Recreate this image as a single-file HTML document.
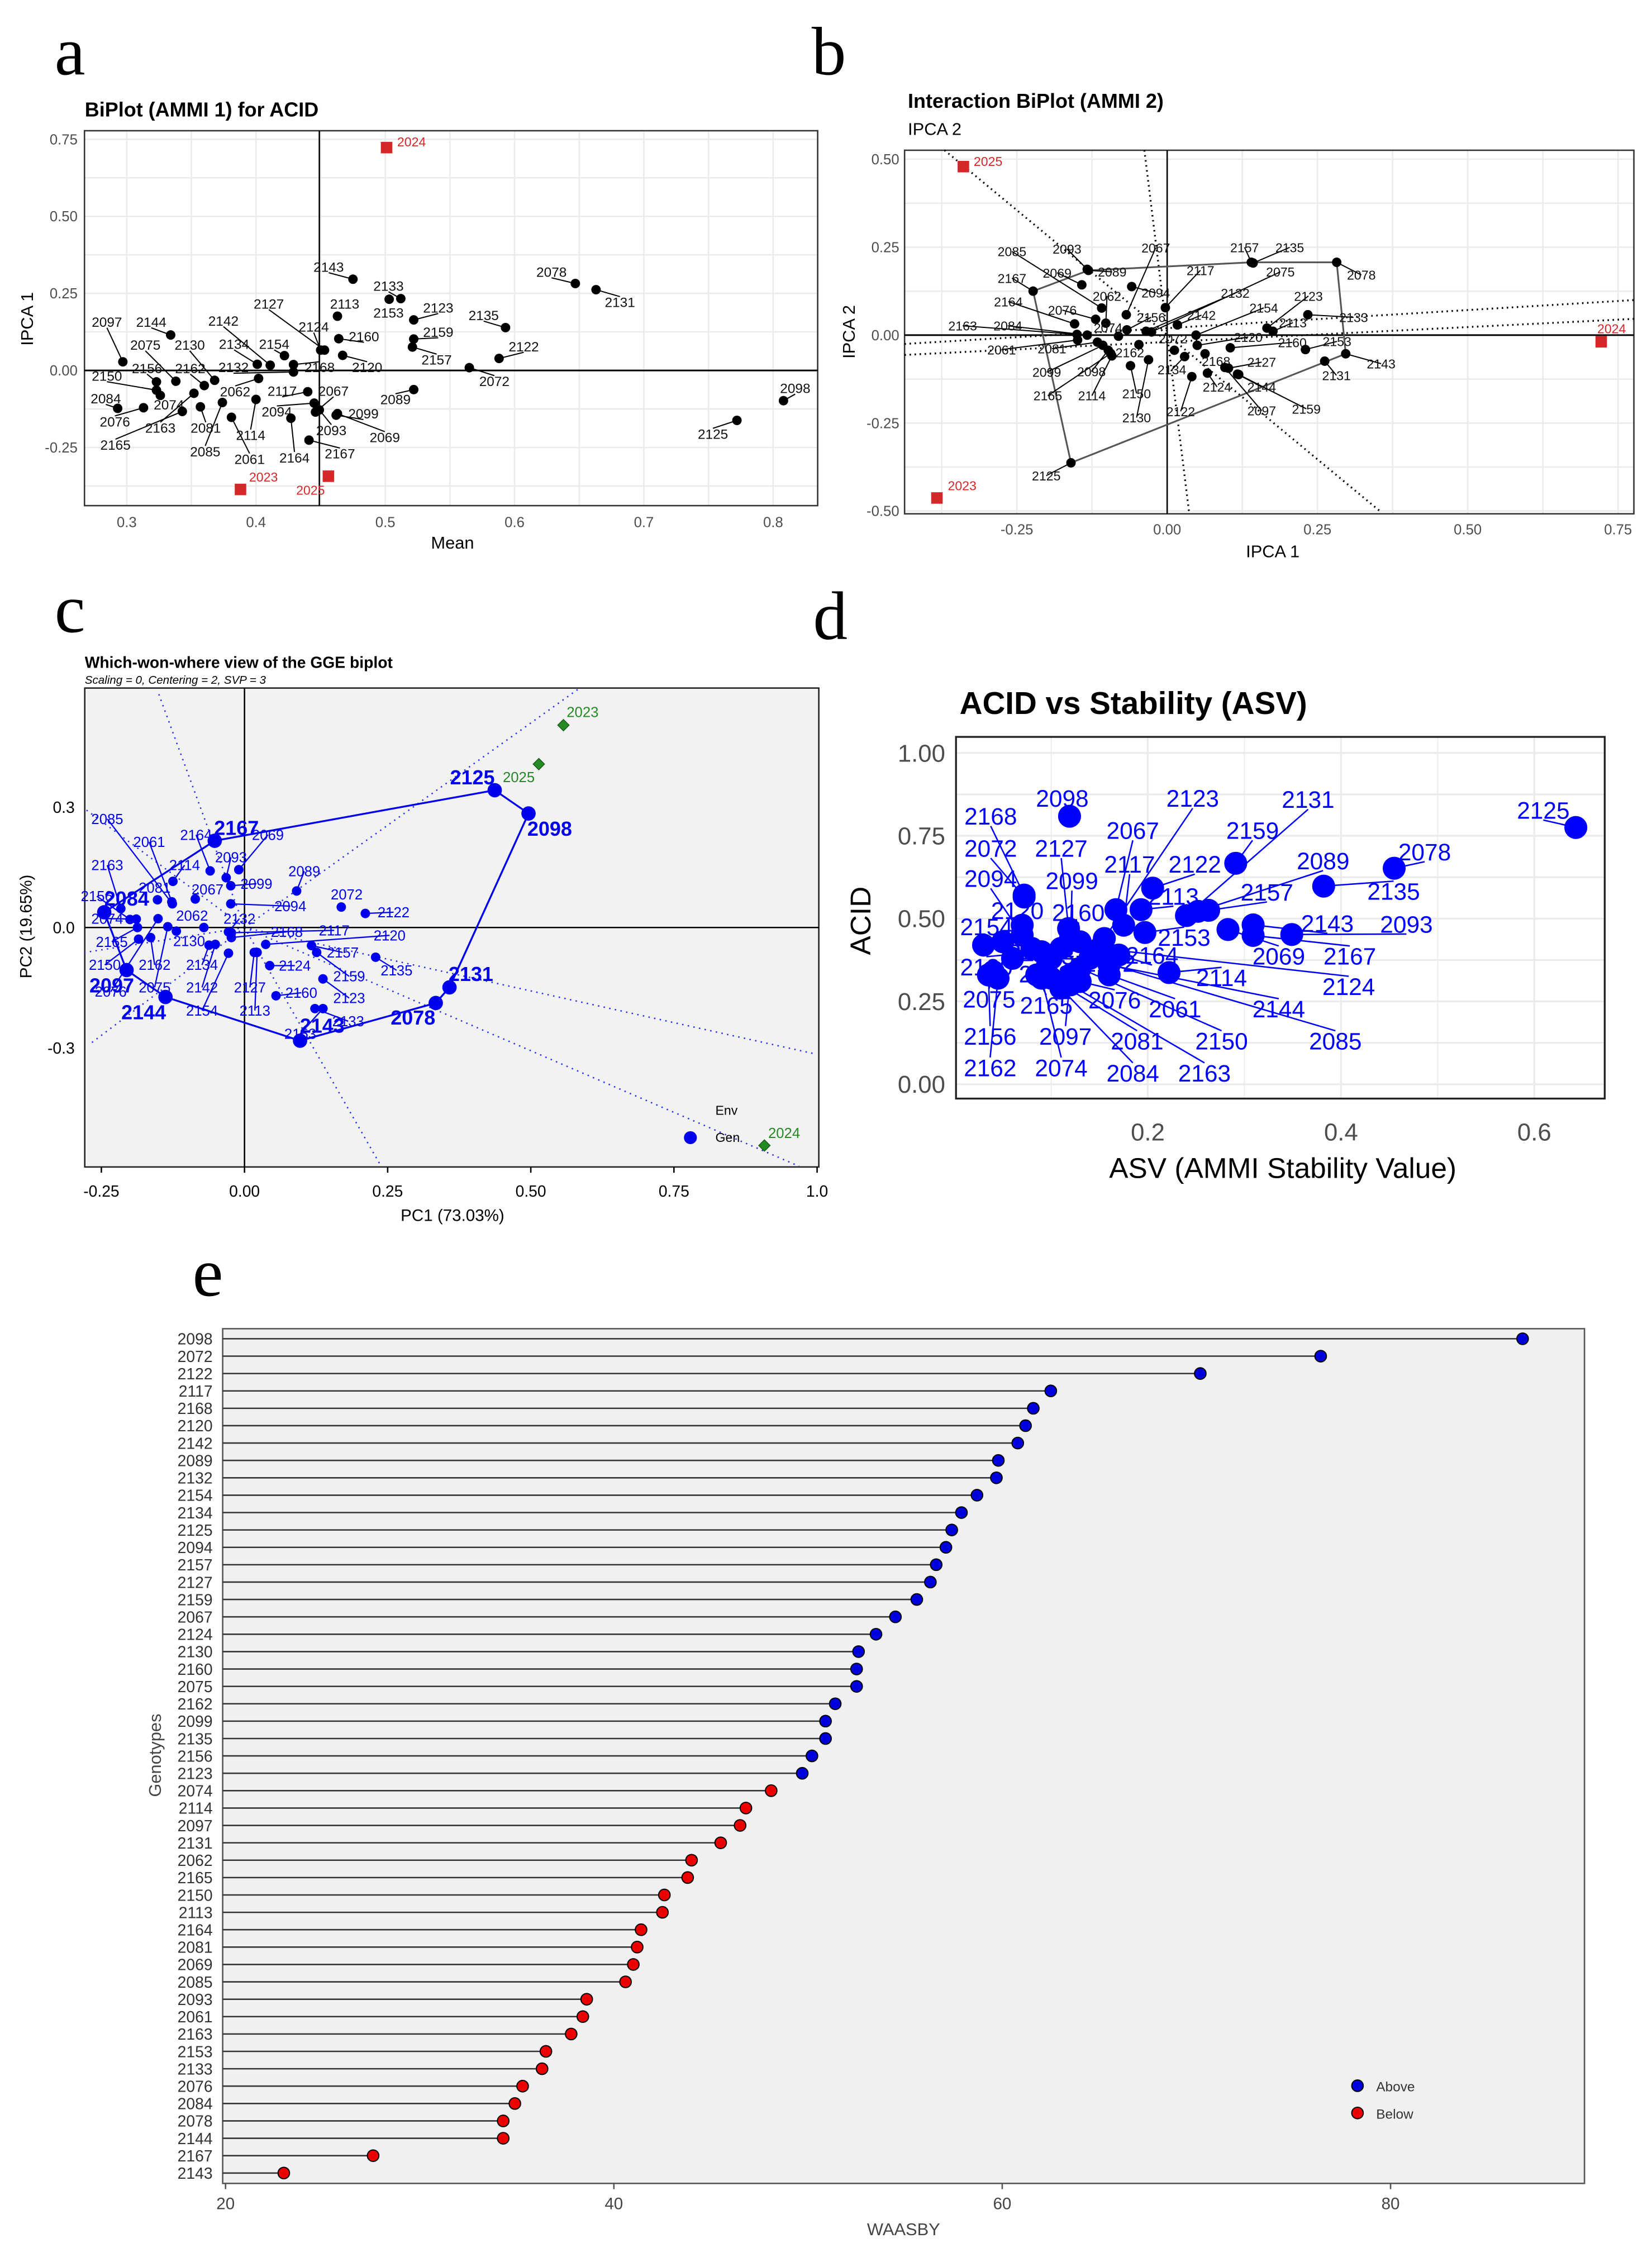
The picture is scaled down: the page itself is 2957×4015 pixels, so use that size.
<!DOCTYPE html>
<html><head><meta charset="utf-8"><style>
html,body{margin:0;padding:0;background:#fff;}
svg{display:block;font-family:"Liberation Sans",sans-serif;}
</style></head><body>
<svg id="fig" xmlns="http://www.w3.org/2000/svg" width="2957" height="4015" viewBox="0 0 1150 1561.5"></svg>
<script>
const NS="http://www.w3.org/2000/svg";
const svg=document.getElementById('fig');
function mk(tag,attrs,parent,txt){const e=document.createElementNS(NS,tag);for(const k in attrs)e.setAttribute(k,attrs[k]);if(txt!==undefined)e.textContent=txt;(parent||svg).appendChild(e);return e;}

// ---------- Panel a data ----------
const aNames=["2143","2133","2153","2078","2131","2113","2123","2135","2160","2159","2157","2122","2124","2127","2120","2072","2097","2144","2134","2142","2154","2168","2132","2075","2130","2162","2156","2150","2062","2074","2084","2076","2165","2163","2081","2085","2061","2114","2117","2094","2067","2099","2093","2069","2164","2167","2089","2098","2125"];
const aMean=[.475,.512,.503,.647,.663,.463,.522,.593,.464,.522,.521,.588,.450,.453,.467,.565,.297,.334,.401,.411,.422,.429,.429,.338,.368,.360,.323,.323,.402,.326,.293,.313,.343,.352,.357,.374,.381,.400,.440,.445,.446,.462,.449,.463,.427,.441,.522,.808,.772];
const aIpca=[.296,.233,.231,.282,.262,.176,.164,.139,.103,.102,.076,.039,.066,.066,.049,.009,.028,.115,.020,.017,.048,.019,-.005,-.035,-.032,-.049,-.037,-.064,-.026,-.081,-.123,-.121,-.133,-.074,-.118,-.104,-.152,-.094,-.069,-.106,-.135,-.145,-.128,-.140,-.155,-.226,-.062,-.098,-.162];
const aEnvNames=["2024","2023","2025"];
const aEnvMean=[.501,.388,.456];
const aEnvIpca=[.723,-.386,-.343];
const aXTicks=[0.3,0.4,0.5,0.6,0.7,0.8];
const aYTicks=[-0.25,0,0.25,0.5,0.75];
const aYTickLabels=["-0.25","0.00","0.25","0.50","0.75"];
const aVline=0.449;

// ---------- Panel b data ----------
const bNames=["2085","2093","2067","2157","2135","2167","2069","2089","2117","2075","2078","2062","2094","2132","2123","2164","2076","2154","2156","2142","2133","2113","2163","2084","2074","2120","2072","2160","2153","2061","2081","2162","2168","2127","2143","2099","2098","2134","2131","2124","2144","2165","2114","2150","2122","2097","2159","2130","2125"];
const bIpca1=[-.109,-.133,-.068,.140,.143,-.223,-.142,-.131,-.003,-.026,.282,-.102,-.059,-.035,.166,-.154,-.119,.048,-.067,.017,.234,.176,-.150,-.133,-.081,.050,.012,.105,.230,-.149,-.116,-.047,.063,.102,.297,-.107,-.098,.029,.262,.067,.117,-.094,-.092,-.061,.041,.096,.119,-.031,-.160];
const bIpca2=[.077,.187,.058,.207,.205,.125,.143,.184,.078,.009,.207,.034,.138,.011,.020,.032,.045,.000,.015,.029,.058,.011,.002,.000,-.003,-.029,-.043,-.036,-.041,-.014,-.020,-.027,-.053,-.094,-.053,-.029,-.043,-.061,-.074,-.108,-.111,-.052,-.059,-.087,-.118,-.092,-.112,-.070,-.363];
const bHull=["2167","2089","2157","2078","2143","2125"];
const bEnvNames=["2025","2023","2024"];
const bEnv1=[-.339,-.383,.722];
const bEnv2=[.479,-.463,-.019];
const bXTicks=[-0.25,0,0.25,0.5,0.75];
const bXTickLabels=["-0.25","0.00","0.25","0.50","0.75"];
const bYTicks=[-0.5,-0.25,0,0.25,0.5];
const bYTickLabels=["-0.50","-0.25","0.00","0.25","0.50"];

// ---------- Panel c data ----------
const cNames=["2125","2098","2131","2078","2143","2144","2097","2084","2167","2164","2069","2093","2099","2114","2061","2067","2081","2085","2094","2089","2072","2122","2163","2074","2076","2062","2132","2165","2130","2150","2162","2075","2134","2142","2154","2168","2117","2120","2157","2159","2135","2127","2113","2124","2123","2160","2133","2153","2156"];
const cPC1=[.437,.496,.358,.334,.097,-.138,-.206,-.245,-.052,-.060,-.010,-.032,-.024,-.125,-.127,-.086,-.152,-.126,-.024,.091,.169,.211,-.216,-.189,-.151,-.071,-.028,-.187,-.119,-.185,-.164,-.134,-.062,-.051,-.028,-.023,-.023,.037,.117,.126,.229,.017,.022,.044,.137,.055,.123,.137,-.200];
const cPC2=[.342,.284,-.149,-.188,-.282,-.173,-.106,.038,.216,.141,.144,.124,.104,.115,.064,.071,.069,.059,.059,.091,.051,.035,.047,.021,.022,.000,-.011,.000,-.009,-.029,-.025,.002,-.044,-.042,-.064,-.025,-.013,-.042,-.045,-.062,-.074,-.062,-.062,-.095,-.128,-.170,-.202,-.202,.020];
const cWinners=["2125","2098","2131","2078","2143","2144","2097","2084","2167"];
const cEnvNames=["2023","2025","2024"];
const cEnv1=[.557,.514,.908];
const cEnv2=[.504,.407,-.543];
const cXTicks=[-0.25,0,0.25,0.5,0.75,1.0];
const cXTickLabels=["-0.25","0.00","0.25","0.50","0.75","1.0"];
const cYTicks=[0.3,0,-0.3];
const cYTickLabels=["0.3","0.0","-0.3"];

// ---------- Panel d data ----------
const dNames=["2125","2078","2159","2135","2098","2168","2072","2122","2143","2093","2167","2069","2157","2089","2131","2113","2067","2117","2123","2153","2114","2127","2099","2094","2120","2160","2154","2164","2124","2144","2085","2061","2150","2163","2081","2084","2076","2097","2074","2165","2062","2075","2156","2162","2130","2132","2134","2133","2142"];
const dASV=[.643,.455,.291,.382,.119,.072,.072,.205,.309,.349,.309,.283,.263,.252,.240,.193,.167,.175,.155,.197,.222,.118,.120,.070,.070,.130,.030,.170,.150,.160,.140,.160,.130,.120,.100,.110,.130,.120,.090,.085,.100,.040,.035,.045,.090,.050,.060,.110,.080];
const dACID=[.775,.652,.667,.598,.809,.571,.565,.592,.481,.452,.449,.467,.525,.522,.509,.527,.527,.480,.440,.458,.337,.470,.440,.450,.480,.430,.420,.390,.410,.360,.380,.330,.350,.300,.320,.290,.310,.330,.320,.330,.380,.340,.330,.320,.400,.430,.380,.410,.410];
const dXTicks=[0.2,0.4,0.6];
const dYTicks=[0,0.25,0.5,0.75,1.0];
const dYTickLabels=["0.00","0.25","0.50","0.75","1.00"];

// ---------- Panel e data ----------
const eNames=["2098","2072","2122","2117","2168","2120","2142","2089","2132","2154","2134","2125","2094","2157","2127","2159","2067","2124","2130","2160","2075","2162","2099","2135","2156","2123","2074","2114","2097","2131","2062","2165","2150","2113","2164","2081","2069","2085","2093","2061","2163","2153","2133","2076","2084","2078","2144","2167","2143"];
const eWaasby=[86.8,76.4,70.2,62.5,61.6,61.2,60.8,59.8,59.7,58.7,57.9,57.4,57.1,56.6,56.3,55.6,54.5,53.5,52.6,52.5,52.5,51.4,50.9,50.9,50.2,49.7,48.1,46.8,46.5,45.5,44.0,43.8,42.6,42.5,41.4,41.2,41.0,40.6,38.6,38.4,37.8,36.5,36.3,35.3,34.9,34.3,34.3,27.6,23.0];
const eGroup=["Above","Above","Above","Above","Above","Above","Above","Above","Above","Above","Above","Above","Above","Above","Above","Above","Above","Above","Above","Above","Above","Above","Above","Above","Above","Above","Below","Below","Below","Below","Below","Below","Below","Below","Below","Below","Below","Below","Below","Below","Below","Below","Below","Below","Below","Below","Below","Below","Below"];
const eXTicks=[20,40,60,80];

// ================= layout (label anchor positions from reference, in zoom-crop pixels) =================
const aLab={"2143":[615,605],"2133":[727,668],"2153":[727,757],"2078":[1032,622],"2131":[1160,722],"2113":[645,727],"2123":[820,740],"2135":[905,765],"2160":[681,835],"2159":[820,820],"2157":[817,912],"2122":[980,868],"2124":[587,803],"2127":[503,727],"2120":[687,937],"2072":[925,983],"2097":[200,787],"2144":[283,787],"2142":[418,783],"2134":[438,860],"2154":[513,860],"2075":[272,863],"2130":[355,863],"2156":[275,940],"2162":[356,940],"2132":[437,937],"2168":[598,937],"2150":[200,965],"2062":[440,1017],"2117":[528,1015],"2067":[624,1015],"2084":[198,1040],"2074":[316,1060],"2089":[740,1043],"2094":[518,1083],"2099":[680,1090],"2076":[215,1116],"2163":[300,1137],"2081":[385,1137],"2114":[469,1161],"2093":[620,1145],"2069":[720,1168],"2165":[216,1193],"2085":[384,1215],"2061":[467,1240],"2164":[551,1235],"2167":[636,1222],"2125":[1334,1157],"2098":[1488,1006]};
const aEnvLab=[[770,193],[493,1300],[581,1343]];
const bLab={"2085":[335,535],"2093":[441,527],"2067":[612,523],"2157":[783,522],"2135":[870,522],"2167":[335,620],"2069":[422,603],"2089":[528,600],"2117":[698,595],"2075":[852,600],"2078":[1008,610],"2062":[518,677],"2094":[612,667],"2132":[765,668],"2123":[906,677],"2164":[328,695],"2076":[432,722],"2154":[820,715],"2156":[603,745],"2142":[700,738],"2133":[993,745],"2113":[876,762],"2163":[240,772],"2084":[327,772],"2074":[520,778],"2120":[790,808],"2072":[645,813],"2160":[875,825],"2153":[961,822],"2061":[315,848],"2081":[412,845],"2162":[562,857],"2168":[728,885],"2127":[816,888],"2143":[1046,893],"2099":[402,920],"2098":[488,918],"2134":[643,912],"2131":[960,930],"2124":[730,967],"2144":[816,967],"2165":[404,995],"2114":[489,995],"2150":[575,988],"2122":[660,1045],"2097":[816,1043],"2159":[902,1037],"2130":[575,1065],"2125":[401,1250]};
const bEnvLab=[[289,248],[239,1283],[1490,782]];
const bRays=[[205,212,1045,1365],[590,212,676,1365],[128,830,1533,690],[128,865,1533,750]];
const cLab={"2085":[103,495],"2061":[187,560],"2164":[281,540],"2167":[362,520],"2069":[425,540],"2163":[103,625],"2114":[258,625],"2093":[351,603],"2089":[498,642],"2099":[402,677],"2081":[198,688],"2067":[304,693],"2072":[583,707],"2084":[142,718],"2094":[470,740],"2122":[677,757],"2062":[273,767],"2132":[368,775],"2074":[103,775],"2168":[463,812],"2117":[558,808],"2120":[669,822],"2165":[112,840],"2130":[267,838],"2157":[575,870],"2135":[683,920],"2150":[98,905],"2162":[198,905],"2134":[293,905],"2124":[479,907],"2159":[588,937],"2097":[112,962],"2075":[198,968],"2142":[293,968],"2127":[389,968],"2160":[492,983],"2123":[588,998],"2144":[176,1037],"2154":[293,1033],"2113":[399,1033],"2078":[716,1052],"2131":[832,930],"2125":[835,378],"2098":[990,522],"2143":[534,1075],"2133":[586,1063],"2153":[490,1098],"2156":[82,712],"2076":[110,980]};
const cEnvLab=[[1056,195],[928,378],[1460,1377]];
const cRays=[[1050,128],[205,140],[58,467],[58,870],[70,1125],[652,1470],[1490,1470],[1523,1155]];
const dLab={"2168":[338,487],"2098":[472,437],"2123":[716,437],"2131":[932,440],"2125":[1372,470],"2072":[338,577],"2127":[470,577],"2067":[604,527],"2159":[828,527],"2078":[1150,587],"2117":[598,622],"2122":[720,622],"2089":[960,612],"2094":[338,662],"2099":[490,668],"2113":[680,712],"2157":[855,700],"2135":[1092,698],"2120":[388,752],"2160":[502,757],"2154":[330,797],"2143":[968,788],"2093":[1116,790],"2153":[700,827],"2069":[877,880],"2167":[1010,880],"2164":[640,877],"2114":[770,940],"2124":[1008,965],"2075":[335,1000],"2165":[442,1018],"2076":[570,1003],"2061":[683,1028],"2144":[877,1028],"2156":[337,1105],"2097":[478,1105],"2081":[612,1118],"2150":[770,1118],"2085":[983,1118],"2162":[337,1193],"2074":[470,1193],"2084":[604,1208],"2163":[738,1208],"2130":[330,910],"2133":[470,880],"2132":[420,870],"2134":[520,860],"2142":[560,900],"2062":[440,930]};

// converters from zoom-crop pixel to figure coords
const za=(p)=>[p[0]/2.688,58.3+p[1]/4.744];
const zb=(p)=>[583.4+p[0]/2.767,58.3+p[1]/4.582];
const zc=(p)=>[38.9+p[0]/2.880,447.3+p[1]/4.032];
const zd=(p)=>[563.9+p[0]/2.688,447.3+p[1]/4.032];
function labPos(map,conv,n,px,py){return map[n]?conv(map[n]):[px,py-8];}

// ================= panel letters =================
[["a",38,52],["b",565,52],["c",38,440],["d",566,445],["e",134,902]].forEach(l=>{
 const t=mk('text',{x:l[1],y:l[2],'font-size':48,'font-family':'"Liberation Serif",serif'},svg,l[0]);
 
 
});

// ================= PANEL A =================
(function(){
 const g=mk('g',{});
 
 
 const X=v=>88.2+(v-0.3)*900, Y=v=>257.9-v*214.6;
 const L=58.8,R=569.2,T=91,B=352;
 const title=mk('text',{x:59,y:81,'font-size':14,'font-weight':'bold'},g,'BiPlot (AMMI 1) for ACID');
 
 
 for(let v=0.25;v<=0.85;v+=0.05){const x=X(v);if(x<L||x>R)continue;const ln=mk('line',{x1:x,x2:x,y1:T,y2:B,stroke:'#ebebeb','stroke-width':1},g);}
 for(let v=-0.5;v<=0.8;v+=0.125){const y=Y(v);if(y<T||y>B)continue;const ln=mk('line',{x1:L,x2:R,y1:y,y2:y,stroke:'#ebebeb','stroke-width':1},g);}
 const box=mk('rect',{x:L,y:T,width:R-L,height:B-T,fill:'none',stroke:'#333','stroke-width':1},g);
 
 const vl=mk('line',{x1:X(aVline),x2:X(aVline),y1:T,y2:B,stroke:'#000','stroke-width':1},g);
 
 const hl=mk('line',{x1:L,x2:R,y1:Y(0),y2:Y(0),stroke:'#000','stroke-width':1.2},g);
 
 aXTicks.forEach(v=>{const t=mk('text',{x:X(v),y:367,'font-size':10,fill:'#4d4d4d','text-anchor':'middle'},g,String(v));});
 aYTicks.forEach((v,i)=>{const t=mk('text',{x:54,y:Y(v)+3.5,'font-size':10,fill:'#4d4d4d','text-anchor':'end'},g,aYTickLabels[i]);});
 const xt=mk('text',{x:315,y:382,'font-size':12,'text-anchor':'middle'},g,'Mean');
 const yt=mk('text',{x:23,y:222,'font-size':12,'text-anchor':'middle',transform:'rotate(-90 23 222)'},g,'IPCA 1');
 aNames.forEach((n,i)=>{
  const px=X(aMean[i]),py=Y(aIpca[i]);const lp=labPos(aLab,za,n,px,py);
  if(Math.hypot(lp[0]-px,lp[1]-py)>10){const ln=mk('line',{x1:px,y1:py,x2:lp[0],y2:lp[1]+ (lp[1]<py?4:-4),stroke:'#000','stroke-width':0.8},g);}
  const c=mk('circle',{cx:px,cy:py,r:3.3,fill:'#000'},g);
  const t=mk('text',{x:lp[0],y:lp[1]+3.3,'font-size':9.5,'text-anchor':'middle',fill:'#111'},g,n);
 });
 aEnvNames.forEach((n,i)=>{
  const px=X(aEnvMean[i]),py=Y(aEnvIpca[i]);
  const r=mk('rect',{x:px-4,y:py-4,width:8,height:8,fill:'#d62728'},g);
  const lp=za(aEnvLab[i]);const t=mk('text',{x:lp[0],y:lp[1]+3,'font-size':9,'text-anchor':'middle',fill:'#d62728'},g,n);
 });
})();

// ================= PANEL B =================
(function(){
 const g=mk('g',{});
 
 
 const X=v=>812.5+v*418.5, Y=v=>233.3-v*244.9;
 const L=629.7,R=1137.4,T=104.6,B=357.7;
 const t1=mk('text',{x:632,y:75,'font-size':14,'font-weight':'bold'},g,'Interaction BiPlot (AMMI 2)');
 const t2=mk('text',{x:632,y:94,'font-size':12},g,'IPCA 2');
 for(let v=-0.375;v<=0.8;v+=0.125){const x=X(v);if(x<L||x>R)continue;const ln=mk('line',{x1:x,x2:x,y1:T,y2:B,stroke:'#ebebeb'},g);}
 for(let v=-0.5;v<=0.5;v+=0.125){const y=Y(v);const ln=mk('line',{x1:L,x2:R,y1:y,y2:y,stroke:'#ebebeb'},g);}
 const box=mk('rect',{x:L,y:T,width:R-L,height:B-T,fill:'none',stroke:'#333'},g);
 bRays.forEach(r=>{const a=zb([r[0],r[1]]),b=zb([r[2],r[3]]);const ln=mk('line',{x1:a[0],y1:a[1],x2:b[0],y2:b[1],stroke:'#000','stroke-width':1.3,'stroke-dasharray':'1 2.5'},g);});
 const vl=mk('line',{x1:X(0),x2:X(0),y1:T,y2:B,stroke:'#000'},g);
 const hl=mk('line',{x1:L,x2:R,y1:Y(0),y2:Y(0),stroke:'#000','stroke-width':1.2},g);
 const hp=bHull.map(n=>{const i=bNames.indexOf(n);return X(bIpca1[i])+','+Y(bIpca2[i]);}).join(' ');
 const hull=mk('polygon',{points:hp,fill:'none',stroke:'#555','stroke-width':1.2},g);
 bXTicks.forEach((v,i)=>{const t=mk('text',{x:X(v),y:372,'font-size':10,fill:'#4d4d4d','text-anchor':'middle'},g,bXTickLabels[i]);});
 bYTicks.forEach((v,i)=>{const t=mk('text',{x:626,y:Y(v)+3.5,'font-size':10,fill:'#4d4d4d','text-anchor':'end'},g,bYTickLabels[i]);});
 const xt=mk('text',{x:886,y:388,'font-size':12,'text-anchor':'middle'},g,'IPCA 1');
 const yt=mk('text',{x:595,y:231,'font-size':12,'text-anchor':'middle',transform:'rotate(-90 595 231)'},g,'IPCA 2');
 bNames.forEach((n,i)=>{
  const px=X(bIpca1[i]),py=Y(bIpca2[i]);const lp=labPos(bLab,zb,n,px,py);
  if(Math.hypot(lp[0]-px,lp[1]-py)>10){const ln=mk('line',{x1:px,y1:py,x2:lp[0],y2:lp[1],stroke:'#000','stroke-width':0.8},g);}
 });
 bNames.forEach((n,i)=>{
  const px=X(bIpca1[i]),py=Y(bIpca2[i]);const lp=labPos(bLab,zb,n,px,py);
  const c=mk('circle',{cx:px,cy:py,r:3.3,fill:'#000'},g);
  const t=mk('text',{x:lp[0],y:lp[1]+3.3,'font-size':9,'text-anchor':'middle',fill:'#111'},g,n);
 });
 bEnvNames.forEach((n,i)=>{
  const px=X(bEnv1[i]),py=Y(bEnv2[i]);
  const r=mk('rect',{x:px-4,y:py-4,width:8,height:8,fill:'#d62728'},g);
  const lp=zb(bEnvLab[i]);const t=mk('text',{x:lp[0],y:lp[1]+3,'font-size':9,'text-anchor':'middle',fill:'#d62728'},g,n);
 });
})();

// ================= PANEL C =================
(function(){
 const g=mk('g',{});
 
 
 const X=v=>170.2+v*398.6, Y=v=>645.7-v*279.5;
 const L=59,R=570,T=479,B=812.4;
 const t1=mk('text',{x:59,y:465,'font-size':11,'font-weight':'bold'},g,'Which-won-where view of the GGE biplot');
 const t2=mk('text',{x:59,y:476,'font-size':8,'font-style':'italic'},g,'Scaling = 0, Centering = 2, SVP = 3');
 const bg=mk('rect',{x:L,y:T,width:R-L,height:B-T,fill:'#f2f2f2',stroke:'#222','stroke-width':1},g);
 const o=[X(0),Y(0)];
 cRays.forEach(r=>{const e=zc(r);const ln=mk('line',{x1:o[0],y1:o[1],x2:e[0],y2:e[1],stroke:'#2233ee','stroke-width':1,'stroke-dasharray':'1 3'},g);});
 const vl=mk('line',{x1:X(0),x2:X(0),y1:T,y2:B,stroke:'#000'},g);
 const hl=mk('line',{x1:L,x2:R,y1:Y(0),y2:Y(0),stroke:'#000'},g);
 const hp=cWinners.map(n=>{const i=cNames.indexOf(n);return X(cPC1[i])+','+Y(cPC2[i]);}).join(' ');
 const hull=mk('polygon',{points:hp,fill:'none',stroke:'#0000ee','stroke-width':1.3},g);
 cXTicks.forEach((v,i)=>{const tk=mk('line',{x1:X(v),x2:X(v),y1:B,y2:B+4,stroke:'#000'},g);
  const t=mk('text',{x:X(v),y:833,'font-size':11,'text-anchor':'middle'},g,cXTickLabels[i]);});
 cYTicks.forEach((v,i)=>{const t=mk('text',{x:52,y:Y(v)+4,'font-size':11,'text-anchor':'end'},g,cYTickLabels[i]);});
 const xt=mk('text',{x:315,y:850,'font-size':11.5,'text-anchor':'middle'},g,'PC1 (73.03%)');
 const yt=mk('text',{x:22,y:645,'font-size':11.5,'text-anchor':'middle',transform:'rotate(-90 22 645)'},g,'PC2 (19.65%)');
 cNames.forEach((n,i)=>{
  const px=X(cPC1[i]),py=Y(cPC2[i]);const lp=labPos(cLab,zc,n,px,py);const big=cWinners.indexOf(n)>=0;
  if(!big&&Math.hypot(lp[0]-px,lp[1]-py)>12){const ln=mk('line',{x1:px,y1:py,x2:lp[0],y2:lp[1],stroke:'#0000ee','stroke-width':0.9},g);}
  const c=mk('circle',{cx:px,cy:py,r:big?5:3.3,fill:'#0000ee'},g);
  const t=mk('text',{x:lp[0],y:lp[1]+(big?5:3.5),'font-size':big?14:10,'font-weight':big?'bold':'normal','text-anchor':'middle',fill:'#0000ee'},g,n);
 });
 cEnvNames.forEach((n,i)=>{
  const px=X(cEnv1[i]),py=Y(cEnv2[i]);
  const d=mk('polygon',{points:`${px},${py-4} ${px+4},${py} ${px},${py+4} ${px-4},${py}`,fill:'#228b22',stroke:'#145214','stroke-width':0.5},g);
  const lp=zc(cEnvLab[i]);const t=mk('text',{x:lp[0],y:lp[1]+3.5,'font-size':10,'text-anchor':'middle',fill:'#228b22'},g,n);
 });
 const le=mk('text',{x:498,y:776,'font-size':9},g,'Env');
 const lc=mk('circle',{cx:480.6,cy:792,r:4.5,fill:'#0000ee'},g);
 const lg=mk('text',{x:498,y:795,'font-size':9},g,'Gen');
})();

// ================= PANEL D =================
(function(){
 const g=mk('g',{});
 
 
 const X=v=>664.5+v*672.6, Y=v=>754.8-v*230.6;
 const L=665.5,R=1117.1,T=513,B=764.8;
 const t1=mk('text',{x:668,y:497,'font-size':22,'font-weight':'bold'},g,'ACID vs Stability (ASV)');
 for(let v=0.1;v<0.7;v+=0.1){const x=X(v);if(x>R)continue;const ln=mk('line',{x1:x,x2:x,y1:T,y2:B,stroke:'#ebebeb','stroke-width':Math.round(v*10)%2===0?1.3:0.7},g);}
 for(let v=0;v<=1.0;v+=0.125){const y=Y(v);const ln=mk('line',{x1:L,x2:R,y1:y,y2:y,stroke:'#ebebeb','stroke-width':1.3},g);}
 const box=mk('rect',{x:L,y:T,width:R-L,height:B-T,fill:'none',stroke:'#222','stroke-width':1.3},g);
 dXTicks.forEach(v=>{const t=mk('text',{x:X(v),y:794,'font-size':17,fill:'#4d4d4d','text-anchor':'middle'},g,String(v));});
 dYTicks.forEach((v,i)=>{const t=mk('text',{x:658,y:Y(v)+6,'font-size':17,fill:'#4d4d4d','text-anchor':'end'},g,dYTickLabels[i]);});
 const xt=mk('text',{x:893,y:820,'font-size':20,'text-anchor':'middle'},g,'ASV (AMMI Stability Value)');
 const yt=mk('text',{x:606,y:641,'font-size':20,'text-anchor':'middle',transform:'rotate(-90 606 641)'},g,'ACID');
 dNames.forEach((n,i)=>{
  const px=X(dASV[i]),py=Y(dACID[i]);const lp=labPos(dLab,zd,n,px,py);
  if(Math.hypot(lp[0]-px,lp[1]-py)>16){const ln=mk('line',{x1:px,y1:py,x2:lp[0],y2:lp[1]+(lp[1]<py?7:-7),stroke:'#0000ff','stroke-width':1},g);}
 });
 dNames.forEach((n,i)=>{
  const px=X(dASV[i]),py=Y(dACID[i]);
  const c=mk('circle',{cx:px,cy:py,r:8,fill:'#0000ff'},g);
 });
 dNames.forEach((n,i)=>{
  const px=X(dASV[i]),py=Y(dACID[i]);const lp=labPos(dLab,zd,n,px,py);
  const t=mk('text',{x:lp[0],y:lp[1]+6,'font-size':16.5,'text-anchor':'middle',fill:'#0000ff'},g,n);
 });
})();

// ================= PANEL E =================
(function(){
 const g=mk('g',{});
 
 
 const X=v=>157+(v-20)*13.517, Y=i=>932+i*12.1;
 const L=155,R=1103,T=925,B=1520;
 const bg=mk('rect',{x:L,y:T,width:R-L,height:B-T,fill:'#f0f0f0',stroke:'#555','stroke-width':1},g);
 eXTicks.forEach(v=>{const tk=mk('line',{x1:X(v),x2:X(v),y1:B,y2:B+4,stroke:'#555'},g);
  const t=mk('text',{x:X(v),y:1538,'font-size':11.5,fill:'#444','text-anchor':'middle'},g,String(v));});
 eNames.forEach((n,i)=>{
  const y=Y(i);
  const ln=mk('line',{x1:L,x2:X(eWaasby[i]),y1:y,y2:y,stroke:'#333','stroke-width':1},g);
  const c=mk('circle',{cx:X(eWaasby[i]),cy:y,r:4,fill:eGroup[i]==='Above'?'#0000dd':'#ee0000',stroke:'#000','stroke-width':0.8},g);
  const t=mk('text',{x:148,y:y+4,'font-size':11,'text-anchor':'end',fill:'#333'},g,n);
 });
 const xt=mk('text',{x:629,y:1556,'font-size':12,'text-anchor':'middle',fill:'#444'},g,'WAASBY');
 const yt=mk('text',{x:112,y:1222,'font-size':12,'text-anchor':'middle',fill:'#444',transform:'rotate(-90 112 1222)'},g,'Genotypes');
 const l1=mk('circle',{cx:945,cy:1452,r:4,fill:'#0000dd',stroke:'#000','stroke-width':0.8},g);
 const lt1=mk('text',{x:958,y:1456,'font-size':9.5,fill:'#333'},g,'Above');
 const l2=mk('circle',{cx:945,cy:1471,r:4,fill:'#ee0000',stroke:'#000','stroke-width':0.8},g);
 const lt2=mk('text',{x:958,y:1475,'font-size':9.5,fill:'#333'},g,'Below');
})();
</script>
</body></html>
